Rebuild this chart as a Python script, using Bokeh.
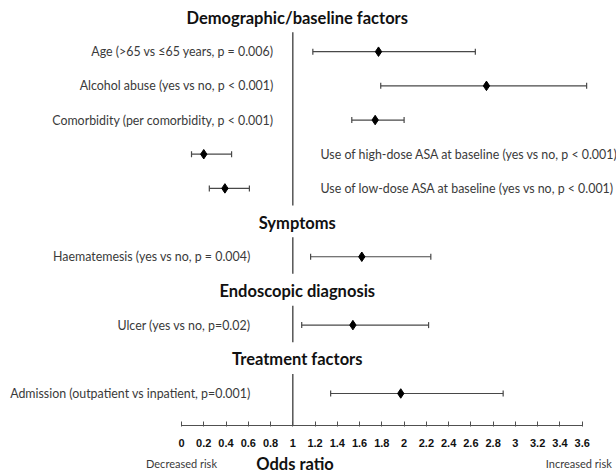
from bokeh.plotting import figure
from bokeh.models import Range1d, Whisker, ColumnDataSource, FixedTicker, TeeHead
from bokeh.core.properties import value
from bokeh.embed import file_html
from bokeh.resources import INLINE

# ---------------- data ----------------
sections = ["Demographic/baseline factors", "Symptoms", "Endoscopic diagnosis", "Treatment factors"]
factors = [
    "Age (>65 vs \u226465 years, p = 0.006)",
    "Alcohol abuse (yes vs no, p < 0.001)",
    "Comorbidity (per comorbidity, p < 0.001)",
    "Use of high-dose ASA at baseline (yes vs no, p < 0.001)",
    "Use of low-dose ASA at baseline (yes vs no, p < 0.001)",
    "Haematemesis (yes vs no, p = 0.004)",
    "Ulcer (yes vs no, p=0.02)",
    "Admission (outpatient vs inpatient, p=0.001)",
]
factor_section = [0, 0, 0, 0, 0, 1, 2, 3]
odds_ratio = [1.77, 2.74, 1.74, 0.20, 0.39, 1.62, 1.54, 1.97]
ci_low = [1.18, 1.79, 1.53, 0.09, 0.25, 1.16, 1.08, 1.34]
ci_high = [2.64, 3.64, 2.00, 0.45, 0.61, 2.24, 2.22, 2.89]
ticks = [0, 0.2, 0.4, 0.6, 0.8, 1, 1.2, 1.4, 1.6, 1.8, 2, 2.2, 2.4, 2.6, 2.8, 3, 3.2, 3.4, 3.6]
tick_labels = ["0", "0.2", "0.4", "0.6", "0.8", "1", "1.2", "1.4", "1.6", "1.8", "2",
               "2.2", "2.4", "2.6", "2.8", "3", "3.2", "3.4", "3.6"]
null_value = 1
axis_title = "Odds ratio"
left_note = "Decreased risk"
right_note = "Increased risk"

# ---------------- layout ----------------
W, H = 616, 476
AXIS_PX = 425               # px from top where the x axis sits
NOTE_PX = 463
X0_PX, UNIT_PX = 181.0, 111.3
SLOT0_PX, STEP_PX = 17.0, 34.18

x_start = -X0_PX / UNIT_PX
x_end = (W - X0_PX) / UNIT_PX
y_top = -SLOT0_PX / STEP_PX
y_bottom = (H - SLOT0_PX) / STEP_PX
axis_slot = (AXIS_PX - SLOT0_PX) / STEP_PX
note_slot = (NOTE_PX - SLOT0_PX) / STEP_PX

# slot positions: header, then its rows
header_slot = []
row_slot = [0] * len(factors)
slot = 0
for s in range(len(sections)):
    header_slot.append(slot)
    slot += 1
    for i, fs in enumerate(factor_section):
        if fs == s:
            row_slot[i] = slot
            slot += 1

left_label_x = [0.827, 0.62, 0.62, 0.62]
right_label_x = 1.249
header_x = 1.04
LABEL_SIZE = "12.4px"

p = figure(width=W, height=H, output_backend="svg", toolbar_location=None,
           x_range=Range1d(x_start, x_end), y_range=Range1d(y_bottom, y_top),
           y_axis_location=None, min_border=0)
p.grid.visible = False
p.outline_line_color = None
p.background_fill_color = "white"
p.border_fill_color = "white"

# x axis, drawn at a fixed place inside the frame
ax = p.xaxis[0]
ax.fixed_location = axis_slot
ax.bounds = (ticks[0], ticks[-1])
ax.ticker = FixedTicker(ticks=ticks)
ax.major_label_overrides = {t: l for t, l in zip(ticks, tick_labels)}
ax.minor_tick_line_color = None
ax.major_tick_in = 4
ax.major_tick_out = 1
ax.axis_line_color = "#505050"
ax.major_tick_line_color = "#505050"
ax.major_label_standoff = 12
ax.major_label_text_font = "Liberation Sans"
ax.major_label_text_font_style = "bold"
ax.major_label_text_font_size = "11px"
ax.major_label_text_color = "#111111"

# reference line segments at OR = 1
seg_y0, seg_y1 = [], []
for s in range(len(sections)):
    rows = [row_slot[i] for i, fs in enumerate(factor_section) if fs == s]
    seg_y0.append(header_slot[s] + 0.43)
    seg_y1.append(max(rows) + 0.5 if s < len(sections) - 1 else axis_slot)
p.segment(x0=[null_value] * len(sections), y0=seg_y0, x1=[null_value] * len(sections), y1=seg_y1,
          line_color="#555555", line_width=1.5)

# headers
p.text(x=[header_x] * len(sections), y=header_slot, text=sections,
       text_font=value("Lato"), text_font_style="bold", text_font_size="16.5px",
       text_color="#111111", text_align="center", text_baseline="middle")

# error bars + points
src = ColumnDataSource(dict(y=row_slot, lo=ci_low, hi=ci_high, orv=odds_ratio))
wh = Whisker(source=src, base="y", lower="lo", upper="hi", dimension="width",
             line_color="#484848", line_width=1.2,
             lower_head=TeeHead(size=6, line_color="#484848", line_width=1.2),
             upper_head=TeeHead(size=6, line_color="#484848", line_width=1.2))
p.add_layout(wh)
p.scatter(x="orv", y="y", source=src, marker="diamond", size=9.5, color="black")

# row labels
lx, ly, lt, rx, ry, rt = [], [], [], [], [], []
for i, name in enumerate(factors):
    if odds_ratio[i] < null_value:
        rx.append(right_label_x); ry.append(row_slot[i]); rt.append(name)
    else:
        lx.append(left_label_x[factor_section[i]]); ly.append(row_slot[i]); lt.append(name)
p.text(x=lx, y=ly, text=lt, text_font=value("Lato"), text_font_size=LABEL_SIZE,
       text_color="#3a3a3a", text_align="right", text_baseline="middle")
p.text(x=rx, y=ry, text=rt, text_font=value("Lato"), text_font_size=LABEL_SIZE,
       text_color="#3a3a3a", text_align="left", text_baseline="middle")

# bottom notes and axis title
p.text(x=[ticks[0], ticks[-1] - 0.03], y=[note_slot, note_slot], text=[left_note, right_note],
       text_font=value("Lato"), text_font_size="11px", text_color="#3a3a3a",
       text_align="center", text_baseline="middle")
p.text(x=[null_value + 0.02], y=[note_slot], text=[axis_title],
       text_font=value("Lato"), text_font_style="bold", text_font_size="16.5px",
       text_color="#111111", text_align="center", text_baseline="middle")

open("out.html", "w").write(file_html(p, INLINE))
